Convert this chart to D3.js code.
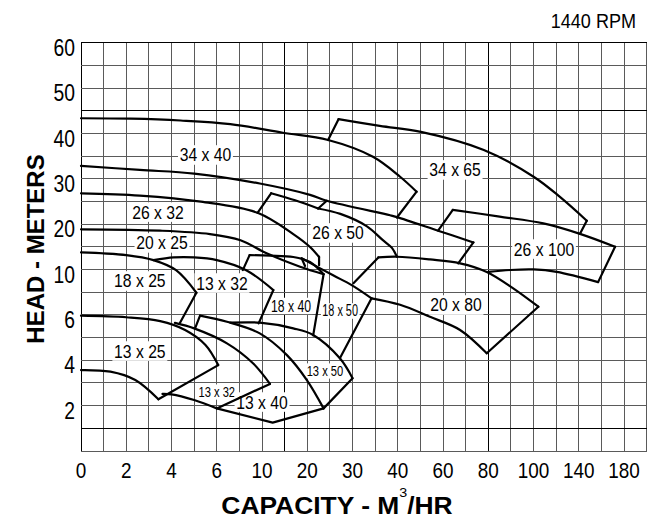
<!DOCTYPE html>
<html><head><meta charset="utf-8">
<script src="https://cdn.jsdelivr.net/npm/d3@7"></script>
<style>body{margin:0;background:#fff}</style>
</head><body><svg id="c" width="658" height="521"></svg>
<script>
// ---- axis definitions ----
const xTicks=[0,2,4,6,10,20,30,40,60,80,100,140,180];
const xGrid=[0,1,2,3,4,5,6,8,10,15,20,25,30,35,40,50,60,70,80,90,100,120,140,160,180,200];
const yTicks=[0,2,4,6,10,20,30,40,50,60];
const yTickLabels=[2,4,6,10,20,30,40,50,60];
const yGrid=[0,1,2,3,4,5,6,8,10,15,20,25,30,35,40,45,50,55,60];
const xDark=[0,15,80];
const yDark=[1,45,60];

// ---- pump curves (capacity m3/h, head m) ----
const top_34x40=[[0,43.4],[2.2,43.3],[4.4,42.9],[7.2,42.1],[14.6,40.2],[24.6,38.6],[34.5,34.9],[41,30.5],[48.3,27.2]];
const edge_34x40=[[48.3,27.2],[39.8,21.5]];
const curve_33=[[0,32.9],[2.6,32],[5,31.2],[9.8,29],[20.6,26.5],[24.3,25.2],[38.3,22],[39.8,21.6],[57.8,18.6],[73.4,16]];
const edge_26x50_right=[[73.4,16],[66.7,11.4]];
const edge_34x65_left=[[24.6,38.6],[26.9,43.2]];
const top_34x65=[[26.9,43.2],[36,41.7],[50.2,40.4],[78,36.4],[100,30.5],[123,26.1],[147,20.8]];
const edge_34x65_right=[[147,20.8],[141,17.9]];
const edge_26x100_left=[[57.8,18.6],[64.3,23.2]];
const top_26x100=[[64.3,23.2],[85,21.7],[108.6,20.2],[141,17.9],[172,15.05]];
const edge_26x100_right=[[172,15.05],[157,8.9]];
const bottom_26x100=[[157,8.9],[120.4,9.8],[100,10.05],[89.6,9.97],[80,9.8]];
const edge_20x80_left=[[30.2,8.8],[35.7,12.7]];
const top_20x80=[[35.7,12.7],[39.8,12.85],[54.2,12.25],[67.5,11.4],[79.3,9.8],[91,8.35],[104.2,6.73]];
const edge_20x80_right=[[104.2,6.73],[79.3,4.31]];
const bottom_20x80=[[79.3,4.31],[67.5,5.34],[54.2,5.92],[41,6.9],[34.2,7.47]];
const top_26x32=[[0,26.85],[2.6,26.35],[5.3,25],[9.6,22.55],[16.9,17.85],[20.6,15],[22.6,12.8]];
const edge_26x32=[[22.6,12.8],[22.6,11]];
const edge_26x50_left=[[9.6,22.55],[12,26.85]];
const top_26x50=[[12,26.85],[17.3,25.3],[22.4,23.5]];
const notch_26x50=[[22.4,23.5],[24.3,25.2]];
const inner_26x50=[[22.4,23.5],[27.3,22.3],[33.1,19.6],[36.7,16.5],[38.7,14.8],[39.8,12.85]];
const top_20x25=[[0,18.9],[3.5,18.6],[5.7,17.85],[8.1,16.5],[11,13.6],[18.4,10.65],[23.6,9.6]];
const top_18x25=[[0,13.8],[2,13.2],[3.2,12.1],[4.2,9.95],[5.1,7.96]];
const edge_18x25=[[5.1,7.96],[4.37,5.65]];
const top_13x32=[[3.2,12.1],[4.1,12.7],[5,12.7],[6,12.1],[8.6,9.95],[12.5,8.2]];
const edge_13x32=[[12.5,8.2],[9.7,5.63]];
const edge_18x40_left=[[8.3,9.96],[8.9,13.2]];
const top_18x40=[[8.9,13.2],[11.8,13.1],[16.9,12.8],[20.6,11.7],[23.6,9.6]];
const edge_18x40_right=[[23.6,9.6],[21.3,5.1]];
const edge_18x50_left=[[18.75,12.5],[19.5,10.8]];
const top_18x50=[[18.75,12.5],[25.7,9.5],[29.8,8.64],[34.2,7.47]];
const edge_18x50_right=[[34.2,7.47],[27.2,4.09]];
const top_13x25=[[0,5.97],[2,5.9],[3.5,5.73],[4.6,5.34],[5.5,4.68],[6.13,3.79]];
const edge_13x25=[[6.13,3.79],[3.42,2.28]];
const bottom_13x25=[[0,3.57],[1.3,3.5],[2.4,3.13],[3.42,2.28]];
const top_13x32L=[[4.15,5.65],[5,5.41],[6.9,4.75],[9.2,3.87],[11.75,2.96]];
const edge_13x32L=[[11.75,2.96],[6,1.88]];
const bottom_13x32L=[[6,1.88],[5,2.25],[4,2.5],[3.6,2.52]];
const edge_13x40_left=[[5.04,5.41],[5.26,5.97]];
const top_13x40=[[5.26,5.97],[6.9,5.7],[9.8,5.19],[15.5,4.23],[19.9,3.13],[23.6,1.88]];
const bottom_13x40=[[23.6,1.88],[12.35,1.25],[6,1.88]];
const top_13x50=[[7.2,5.66],[9.8,5.66],[16.9,5.41],[21.3,5.12],[27.2,4.09],[30,3.21]];
const edge_13x50=[[30,3.21],[23.6,1.88]];

const curves=[top_34x40,curve_33,top_34x65,top_26x100,bottom_26x100,top_20x80,bottom_20x80,top_26x32,top_26x50,inner_26x50,top_20x25,top_18x25,top_13x32,top_18x40,top_18x50,top_13x25,bottom_13x25,top_13x32L,bottom_13x32L,top_13x40,top_13x50];
const edges=[edge_34x40,edge_26x50_right,edge_34x65_left,edge_34x65_right,edge_26x100_left,edge_26x100_right,edge_20x80_left,edge_20x80_right,edge_26x32,edge_26x50_left,notch_26x50,edge_18x25,edge_13x32,edge_18x40_left,edge_18x40_right,edge_18x50_left,edge_18x50_right,edge_13x25,edge_13x32L,edge_13x40_left,bottom_13x40,edge_13x50];

const labels=[
 {t:"34 x 40",q:5.5,h:35.3,s:18.5,k:0.85},
 {t:"34 x 65",q:65.3,h:32,s:18.5,k:0.85},
 {t:"26 x 32",q:3.4,h:22.7,s:18.5,k:0.85},
 {t:"26 x 50",q:26.8,h:18.1,s:18.5,k:0.85},
 {t:"26 x 100",q:109.2,h:14.55,s:18.5,k:0.85},
 {t:"20 x 25",q:3.58,h:15.9,s:18.5,k:0.85},
 {t:"18 x 25",q:2.6,h:9,s:18.5,k:0.85},
 {t:"13 x 32",q:6.46,h:8.82,s:18.5,k:0.85},
 {t:"18 x 40",q:16.4,h:6.8,s:17,k:0.72},
 {t:"18 x 50",q:27.25,h:6.35,s:16,k:0.68},
 {t:"20 x 80",q:65.7,h:6.88,s:18.5,k:0.85},
 {t:"13 x 25",q:2.6,h:4.41,s:18.5,k:0.85},
 {t:"13 x 32",q:6.0,h:2.6,s:15.5,k:0.72},
 {t:"13 x 40",q:10,h:2.16,s:18.5,k:0.85},
 {t:"13 x 50",q:23.9,h:3.53,s:15.5,k:0.72}
];

// ---- layout ----
const L=81, B=451, cx=22.63, cy=22.667;
const x=d3.scaleLinear().domain([...xTicks,220]).range(d3.range(14).map(i=>L+i*2*cx));
const y=d3.scaleLinear().domain(yTicks).range(d3.range(10).map(i=>B-i*2*cy));
const svg=d3.select("#c");
const FN="'Liberation Sans',Arial,sans-serif";

function txt(parent,px,py,str,size,k,anchor){
  const g=parent.append("g").attr("transform",`translate(${px},${py}) scale(${k},1)`);
  const t=g.append("text").attr("text-anchor",anchor||"middle").attr("font-family",FN).attr("font-size",size).text(str);
  return {g,t};
}

const g=svg.append("g");
g.selectAll(".vg").data(xGrid).join("line")
 .attr("x1",d=>x(d)).attr("x2",d=>x(d)).attr("y1",y(0)).attr("y2",y(60))
 .attr("stroke",d=>xDark.includes(d)?"#000":"#5a5a5a").attr("stroke-width",1).attr("shape-rendering","crispEdges");
g.selectAll(".hg").data(yGrid).join("line")
 .attr("y1",d=>y(d)).attr("y2",d=>y(d)).attr("x1",x(0)).attr("x2",x(200))
 .attr("stroke",d=>yDark.includes(d)?"#000":"#5a5a5a").attr("stroke-width",1).attr("shape-rendering","crispEdges");

// labels with white boxes
const lg=svg.append("g");
labels.forEach(l=>{
  const o=txt(lg,x(l.q),y(l.h),l.t,l.s,l.k);
  o.t.attr("dominant-baseline","central");
  const bb=o.t.node().getBBox();
  o.g.insert("rect","text").attr("x",bb.x-2).attr("y",bb.y+1).attr("width",bb.width+4).attr("height",bb.height-2).attr("fill","#fff");
});

const lineSmooth=d3.line().x(d=>x(d[0])).y(d=>y(d[1])).curve(d3.curveCatmullRom.alpha(0.5));
const lineStraight=d3.line().x(d=>x(d[0])).y(d=>y(d[1]));
const cg=svg.append("g").attr("fill","none").attr("stroke","#000").attr("stroke-width",2.2).attr("stroke-linejoin","round").attr("stroke-linecap","round");
curves.forEach(c=>cg.append("path").attr("d",lineSmooth(c)));
edges.forEach(c=>cg.append("path").attr("d",lineStraight(c)));

// tick labels
const tg=svg.append("g");
xTicks.forEach(d=>txt(tg,x(d),478,d,22,0.86));
yTickLabels.forEach(d=>txt(tg,75,y(d)+13,d,23,0.84,"end"));
txt(svg,636,28,"1440 RPM",21,0.86,"end");

svg.append("text").attr("transform","translate(44,249) rotate(-90)").attr("text-anchor","middle")
 .attr("font-family",FN).attr("font-weight","bold").attr("font-size",24).text("HEAD - METERS");
const xg=svg.append("g").attr("transform","translate(337,514) scale(1.1,1)");
const xt=xg.append("text").attr("text-anchor","middle")
 .attr("font-family",FN).attr("font-weight","bold").attr("font-size",24);
xt.append("tspan").text("CAPACITY - M");
xt.append("tspan").attr("dy",-17).attr("font-size",13).attr("font-weight","normal").text("3");
xt.append("tspan").attr("dy",17).text("/HR");
</script></body></html>
